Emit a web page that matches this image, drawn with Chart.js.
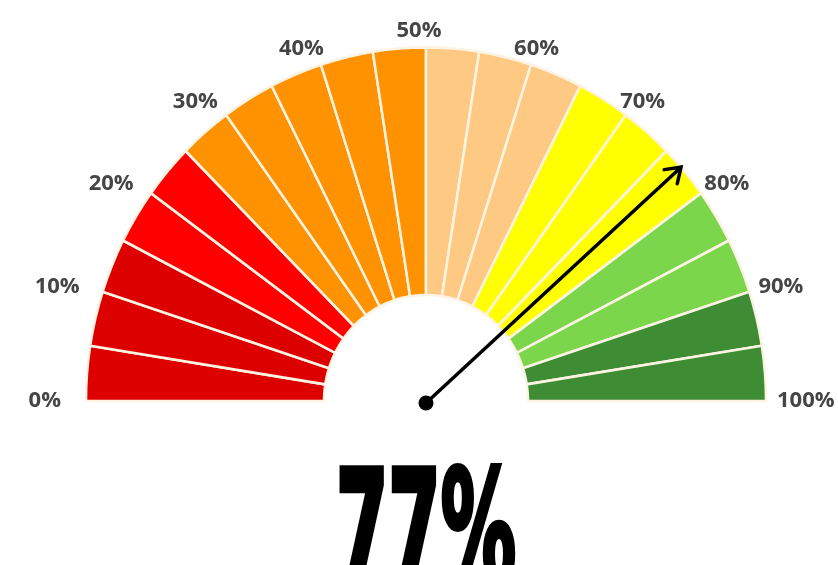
<!DOCTYPE html>
<html lang="en">
<head>
<meta charset="UTF-8">
<title>Gauge</title>
<script src="https://cdn.jsdelivr.net/npm/chart.js@4"></script>
<style>
  body { margin: 0; background: #fff; }
  .gauge-wrap { width: 838px; height: 565px; position: relative; }
</style>
</head>
<body>
<div class="gauge-wrap"><canvas id="gaugeChart"></canvas></div>
<script>
// 20 bands of 5% each
const bandValues = [5, 5, 5, 5, 5, 5, 5, 5, 5, 5, 5, 5, 5, 5, 5, 5, 5, 5, 5, 5];
const tickValues = [0, 10, 20, 30, 40, 50, 60, 70, 80, 90, 100];
const tickLabels = ['0%', '10%', '20%', '30%', '40%', '50%', '60%', '70%', '80%', '90%', '100%'];
const needleValue = 77;
const readout = '77%';

const bandColors = [
  '#dd0000', '#dd0000', '#dd0000',
  '#ff0000', '#ff0000',
  '#ff9200', '#ff9200', '#ff9200', '#ff9200', '#ff9200',
  '#fec982', '#fec982', '#fec982',
  '#ffff00', '#ffff00', '#ffff00',
  '#7bd64b', '#7bd64b',
  '#3e8c33', '#3e8c33'
];

const squash = 1.04; // gauge is a touch taller than wide

const stretch = {
  id: 'stretch',
  beforeDatasetsDraw(chart) {
    const arc = chart.getDatasetMeta(0).data[0];
    const ctx = chart.ctx;
    ctx.save();
    ctx.translate(arc.x, arc.y);
    ctx.scale(1, squash);
    ctx.translate(-arc.x, -arc.y);
  },
  afterDatasetsDraw(chart) {
    chart.ctx.restore();
  }
};

const gaugeExtras = {
  id: 'gaugeExtras',
  afterDraw(chart) {
    const ctx = chart.ctx;
    const arc = chart.getDatasetMeta(0).data[0];
    const cx = arc.x, cy = arc.y, r = arc.outerRadius;

    // percent labels around the rim
    ctx.save();
    ctx.font = 'bold 22px "Open Sans"';
    ctx.fillStyle = '#454545';
    ctx.textAlign = 'center';
    ctx.textBaseline = 'middle';
    tickValues.forEach((v, i) => {
      const t = Math.PI * (1 - v / 100);
      const hw = ctx.measureText(tickLabels[i]).width / 2;
      const R = r + 18;
      const x = cx - 7 + Math.cos(t) * (R + hw);
      const y = cy - Math.sin(t) * (R + 12);
      ctx.fillText(tickLabels[i], x, y);
    });
    ctx.restore();

    // needle
    const t = Math.PI * (1 - needleValue / 100);
    const ox = cx, oy = cy + 2;
    const tx = cx + Math.cos(t) * r;
    const ty = cy - Math.sin(t) * r * squash;
    const ang = Math.atan2(ty - oy, tx - ox);
    ctx.save();
    ctx.strokeStyle = '#000';
    ctx.lineWidth = 3.5;
    ctx.lineCap = 'round';
    ctx.beginPath();
    ctx.moveTo(ox, oy);
    ctx.lineTo(tx, ty);
    ctx.moveTo(tx - 17 * Math.cos(ang - 0.6), ty - 17 * Math.sin(ang - 0.6));
    ctx.lineTo(tx, ty);
    ctx.lineTo(tx - 17 * Math.cos(ang + 0.6), ty - 17 * Math.sin(ang + 0.6));
    ctx.stroke();
    ctx.fillStyle = '#000';
    ctx.beginPath();
    ctx.arc(ox, oy, 7.5, 0, Math.PI * 2);
    ctx.fill();
    ctx.restore();

    // big readout, squeezed into a tall heavy block
    ctx.save();
    ctx.font = 'bold 100px "DejaVu Sans"';
    ctx.fillStyle = '#000';
    ctx.strokeStyle = '#000';
    ctx.textAlign = 'center';
    ctx.textBaseline = 'alphabetic';
    const m = ctx.measureText(readout);
    const sx = 180 / m.width;
    const sy = 118 / m.actualBoundingBoxAscent;
    ctx.translate(426, 583);
    ctx.scale(sx, sy);
    ctx.lineWidth = 4;
    ctx.fillText(readout, 0, 0);
    ctx.strokeText(readout, 0, 0);
    ctx.restore();
  }
};

new Chart(document.getElementById('gaugeChart'), {
  type: 'doughnut',
  data: {
    labels: bandValues.map((v, i) => (i * 5) + '-' + (i * 5 + 5) + '%'),
    datasets: [{
      data: bandValues,
      backgroundColor: bandColors,
      borderColor: '#fdf3e3',
      borderWidth: 2.5,
      hoverBorderWidth: 2.5,
      hoverOffset: 0
    }]
  },
  options: {
    responsive: true,
    maintainAspectRatio: false,
    animation: false,
    rotation: -90,
    circumference: 180,
    cutout: '30%',
    layout: {
      padding: { left: 84.75, right: 70.75, top: 59.75, bottom: 162.75 }
    },
    plugins: {
      legend: { display: false },
      tooltip: { enabled: false }
    }
  },
  plugins: [stretch, gaugeExtras]
});
</script>
</body>
</html>
